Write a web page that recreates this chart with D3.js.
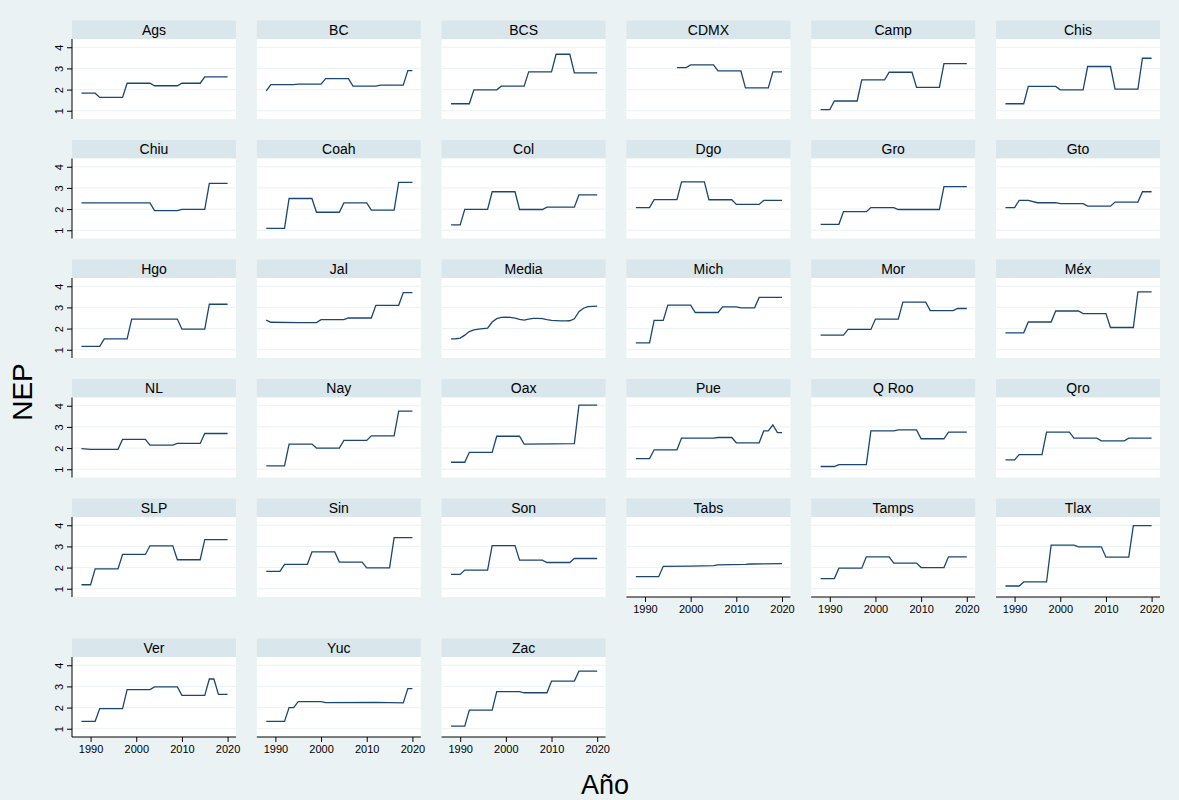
<!DOCTYPE html>
<html><head><meta charset="utf-8">
<script src="https://cdn.jsdelivr.net/npm/d3@7/dist/d3.min.js"></script>
<style>body{margin:0;background:#eaf2f3}svg{display:block}</style>
</head><body><svg id="c" width="1179" height="800"></svg>
<script>
// panel names in facet order
const names = ["Ags","BC","BCS","CDMX","Camp","Chis","Chiu","Coah","Col","Dgo","Gro","Gto",
  "Hgo","Jal","Media","Mich","Mor","Méx","NL","Nay","Oax","Pue","Q Roo","Qro",
  "SLP","Sin","Son","Tabs","Tamps","Tlax","Ver","Yuc","Zac"];
const yTicks = [1,2,3,4];
const xTicks = [1990,2000,2010,2020];
const xTitle = "Año", yTitle = "NEP";

// [year, NEP] vertices of each series
const Ags  = [[1988,1.83],[1991,1.83],[1992,1.63],[1997,1.63],[1998,2.30],[2003,2.30],[2004,2.18],[2009,2.18],[2010,2.30],[2014,2.30],[2015,2.60],[2020,2.60]];
const BC   = [[1988,1.94],[1989,2.23],[1994,2.23],[1995,2.26],[2000,2.26],[2001,2.52],[2006,2.52],[2007,2.16],[2012,2.16],[2013,2.21],[2018,2.21],[2019,2.90],[2020,2.90]];
const BCS  = [[1988,1.33],[1992,1.33],[1993,1.99],[1998,1.99],[1999,2.16],[2004,2.16],[2005,2.84],[2010,2.84],[2011,3.67],[2014,3.67],[2015,2.79],[2020,2.79]];
const CDMX = [[1997,3.04],[1999,3.04],[2000,3.17],[2005,3.17],[2006,2.88],[2011,2.88],[2012,2.08],[2017,2.08],[2018,2.84],[2020,2.84]];
const Camp = [[1988,1.05],[1990,1.05],[1991,1.46],[1996,1.46],[1997,2.46],[2002,2.46],[2003,2.82],[2008,2.82],[2009,2.10],[2014,2.10],[2015,3.23],[2020,3.23]];
const Chis = [[1988,1.33],[1992,1.33],[1993,2.15],[1999,2.15],[2000,1.99],[2005,1.99],[2006,3.09],[2011,3.09],[2012,2.02],[2017,2.02],[2018,3.48],[2020,3.48]];
const Chiu = [[1988,2.29],[2003,2.29],[2004,1.93],[2009,1.93],[2010,1.99],[2015,1.99],[2016,3.21],[2020,3.21]];
const Coah = [[1988,1.09],[1992,1.09],[1993,2.50],[1998,2.50],[1999,1.85],[2004,1.85],[2005,2.29],[2010,2.29],[2011,1.95],[2016,1.95],[2017,3.26],[2020,3.26]];
const Col  = [[1988,1.25],[1990,1.25],[1991,1.99],[1996,1.99],[1997,2.82],[2002,2.82],[2003,1.98],[2008,1.98],[2009,2.09],[2015,2.09],[2016,2.67],[2020,2.67]];
const Dgo  = [[1988,2.07],[1991,2.07],[1992,2.45],[1997,2.45],[1998,3.29],[2003,3.29],[2004,2.44],[2009,2.44],[2010,2.22],[2015,2.22],[2016,2.41],[2020,2.41]];
const Gro  = [[1988,1.28],[1992,1.28],[1993,1.88],[1998,1.88],[1999,2.07],[2004,2.07],[2005,1.98],[2014,1.98],[2015,3.06],[2020,3.06]];
const Gto  = [[1988,2.07],[1990,2.07],[1991,2.41],[1993,2.41],[1995,2.30],[1999,2.30],[2000,2.26],[2005,2.26],[2006,2.14],[2011,2.14],[2012,2.33],[2017,2.33],[2018,2.82],[2020,2.82]];
const Hgo  = [[1988,1.16],[1992,1.16],[1993,1.51],[1998,1.51],[1999,2.45],[2009,2.45],[2010,1.97],[2015,1.97],[2016,3.15],[2020,3.15]];
const Jal  = [[1988,2.40],[1989,2.30],[1995,2.28],[1999,2.28],[2000,2.42],[2005,2.42],[2006,2.50],[2011,2.50],[2012,3.10],[2017,3.10],[2018,3.70],[2020,3.70]];
const Media= [[1988,1.51],[1989,1.52],[1990,1.55],[1991,1.69],[1992,1.86],[1993,1.94],[1994,1.97],[1995,2.00],[1996,2.02],[1997,2.31],[1998,2.47],[1999,2.53],[2000,2.54],[2001,2.53],[2002,2.49],[2003,2.44],[2004,2.40],[2005,2.45],[2006,2.48],[2007,2.48],[2008,2.47],[2009,2.42],[2010,2.39],[2011,2.38],[2012,2.36],[2013,2.36],[2014,2.37],[2015,2.46],[2016,2.80],[2017,2.96],[2018,3.04],[2019,3.05],[2020,3.06]];
const Mich = [[1988,1.32],[1991,1.32],[1992,2.39],[1994,2.39],[1995,3.11],[2000,3.11],[2001,2.76],[2006,2.76],[2007,3.03],[2010,3.03],[2011,2.98],[2014,2.98],[2015,3.47],[2020,3.47]];
const Mor  = [[1988,1.69],[1993,1.69],[1994,1.96],[1999,1.96],[2000,2.45],[2005,2.45],[2006,3.25],[2011,3.25],[2012,2.85],[2017,2.85],[2018,2.95],[2020,2.95]];
const Mex  = [[1988,1.80],[1992,1.80],[1993,2.31],[1998,2.31],[1999,2.83],[2004,2.83],[2005,2.71],[2010,2.71],[2011,2.05],[2016,2.05],[2017,3.73],[2020,3.73]];
const NL   = [[1988,1.97],[1990,1.94],[1996,1.94],[1997,2.41],[2002,2.41],[2003,2.14],[2008,2.14],[2009,2.22],[2014,2.22],[2015,2.69],[2020,2.69]];
const Nay  = [[1988,1.16],[1992,1.16],[1993,2.19],[1998,2.19],[1999,2.00],[2004,2.00],[2005,2.36],[2010,2.36],[2011,2.58],[2016,2.58],[2017,3.75],[2020,3.75]];
const Oax  = [[1988,1.33],[1991,1.33],[1992,1.80],[1997,1.80],[1998,2.56],[2003,2.56],[2004,2.19],[2010,2.20],[2015,2.21],[2016,4.03],[2020,4.03]];
const Pue  = [[1988,1.50],[1991,1.50],[1992,1.92],[1997,1.92],[1998,2.47],[2005,2.47],[2006,2.50],[2009,2.50],[2010,2.25],[2015,2.25],[2016,2.81],[2017,2.81],[2018,3.09],[2019,2.73],[2020,2.73]];
const QRoo = [[1988,1.13],[1991,1.13],[1992,1.22],[1998,1.22],[1999,2.81],[2004,2.81],[2005,2.86],[2009,2.86],[2010,2.44],[2015,2.44],[2016,2.75],[2020,2.75]];
const Qro  = [[1988,1.44],[1990,1.44],[1991,1.69],[1996,1.69],[1997,2.75],[2002,2.75],[2003,2.47],[2008,2.47],[2009,2.34],[2014,2.34],[2015,2.47],[2020,2.47]];
const SLP  = [[1988,1.19],[1990,1.19],[1991,1.94],[1996,1.94],[1997,2.62],[2002,2.62],[2003,3.03],[2008,3.03],[2009,2.37],[2014,2.37],[2015,3.32],[2020,3.32]];
const Sin  = [[1988,1.82],[1991,1.82],[1992,2.15],[1997,2.15],[1998,2.74],[2003,2.74],[2004,2.26],[2009,2.26],[2010,1.99],[2015,1.99],[2016,3.42],[2020,3.42]];
const Son  = [[1988,1.68],[1990,1.68],[1991,1.88],[1996,1.88],[1997,3.04],[2002,3.04],[2003,2.35],[2008,2.35],[2009,2.24],[2014,2.24],[2015,2.43],[2020,2.43]];
const Tabs = [[1988,1.57],[1993,1.57],[1994,2.06],[2000,2.07],[2005,2.09],[2006,2.13],[2012,2.15],[2013,2.17],[2020,2.19]];
const Tamps= [[1988,1.48],[1991,1.48],[1992,1.97],[1997,1.97],[1998,2.51],[2003,2.51],[2004,2.21],[2009,2.21],[2010,2.00],[2015,2.00],[2016,2.51],[2020,2.51]];
const Tlax = [[1988,1.13],[1991,1.13],[1992,1.32],[1997,1.32],[1998,3.06],[2003,3.06],[2004,2.98],[2009,2.98],[2010,2.49],[2015,2.49],[2016,3.98],[2020,3.98]];
const Ver  = [[1988,1.35],[1991,1.35],[1992,1.95],[1997,1.95],[1998,2.85],[2003,2.85],[2004,2.98],[2009,2.98],[2010,2.58],[2015,2.58],[2016,3.35],[2017,3.35],[2018,2.62],[2020,2.62]];
const Yuc  = [[1988,1.35],[1992,1.35],[1993,2.00],[1994,2.00],[1995,2.28],[2000,2.28],[2001,2.23],[2012,2.25],[2018,2.22],[2019,2.90],[2020,2.90]];
const Zac  = [[1988,1.12],[1991,1.12],[1992,1.88],[1997,1.88],[1998,2.75],[2003,2.75],[2004,2.70],[2009,2.70],[2010,3.25],[2015,3.25],[2016,3.72],[2020,3.72]];

const seriesList = [Ags,BC,BCS,CDMX,Camp,Chis,Chiu,Coah,Col,Dgo,Gro,Gto,Hgo,Jal,Media,Mich,Mor,Mex,
  NL,Nay,Oax,Pue,QRoo,Qro,SLP,Sin,Son,Tabs,Tamps,Tlax,Ver,Yuc,Zac];

// layout
const nCols = 6;
const colLeft = d3.range(nCols).map(c => 72 + 184.8*c);
const stripTop = [20.5, 140, 259.5, 379, 498.5, 638.5];
const W = 164, stripH = 18.5, plotH = 80;
const FONT = "'Liberation Sans', Arial, Helvetica, sans-serif";
const lineColor = "#1a476f";

const x = d3.scaleLinear().domain([1985.93, 2021.84]).range([0, W]);
const y = d3.scaleLinear().domain([0.61, 4.39]).range([plotH, 0]);

const svg = d3.select("#c");
svg.append("rect").attr("width",1179).attr("height",800).attr("fill","#eaf2f3");

names.forEach((name, i) => {
  const r = Math.floor(i / nCols), c = i % nCols;
  const g = svg.append("g").attr("transform", `translate(${colLeft[c]},${stripTop[r]})`);
  // strip
  g.append("rect").attr("width", W).attr("height", stripH).attr("fill", "#d9e6eb");
  g.append("text").attr("x", W/2).attr("y", stripH/2 + 5)
    .attr("text-anchor","middle").attr("font-family",FONT).attr("font-size",14)
    .attr("fill","#000").text(name);
  const p = g.append("g").attr("transform", `translate(0,${stripH})`);
  p.append("rect").attr("width", W).attr("height", plotH).attr("fill", "#fff");
  // gridlines
  p.selectAll("line.grid").data(yTicks).join("line")
    .attr("x1",0).attr("x2",W).attr("y1",d=>y(d)).attr("y2",d=>y(d))
    .attr("stroke","#eaf2f3").attr("stroke-width",1);
  // line
  const line = d3.line().x(d=>x(d[0])).y(d=>y(d[1]));
  p.append("path").datum(seriesList[i]).attr("d", line)
    .attr("fill","none").attr("stroke",lineColor).attr("stroke-width",1.3)
    .attr("stroke-linejoin","miter");
  // y axis
  if (c === 0) {
    const ya = p.append("g").call(d3.axisLeft(y).tickValues(yTicks).tickSize(5).tickFormat(d3.format("d")));
    ya.select(".domain").attr("stroke","#000").attr("d", `M0,0V${plotH}`);
    ya.selectAll(".tick line").attr("stroke","#000");
    ya.selectAll(".tick text").attr("font-family",FONT).attr("font-size",11).attr("fill","#000")
      .attr("x",null).attr("dy",null).attr("text-anchor","middle")
      .attr("transform","translate(-9,0) rotate(-90)");
  }
  // x axis where there is no panel below
  const below = i + nCols;
  if (below >= names.length) {
    const xa = p.append("g").attr("transform",`translate(0,${plotH})`)
      .call(d3.axisBottom(x).tickValues(xTicks).tickSize(5).tickFormat(d3.format("d")));
    xa.select(".domain").attr("stroke","#000").attr("d", `M0,0H${W}`);
    xa.selectAll(".tick line").attr("stroke","#000");
    xa.selectAll(".tick text").attr("font-family",FONT).attr("font-size",11).attr("fill","#000").attr("y",8);
  }
});

// axis titles
svg.append("text").attr("transform","translate(32,392) rotate(-90)")
  .attr("text-anchor","middle").attr("font-family",FONT).attr("font-size",28).attr("fill","#000").text(yTitle);
svg.append("text").attr("x",605).attr("y",794)
  .attr("text-anchor","middle").attr("font-family",FONT).attr("font-size",27).attr("fill","#000").text(xTitle);
</script>
</body></html>
